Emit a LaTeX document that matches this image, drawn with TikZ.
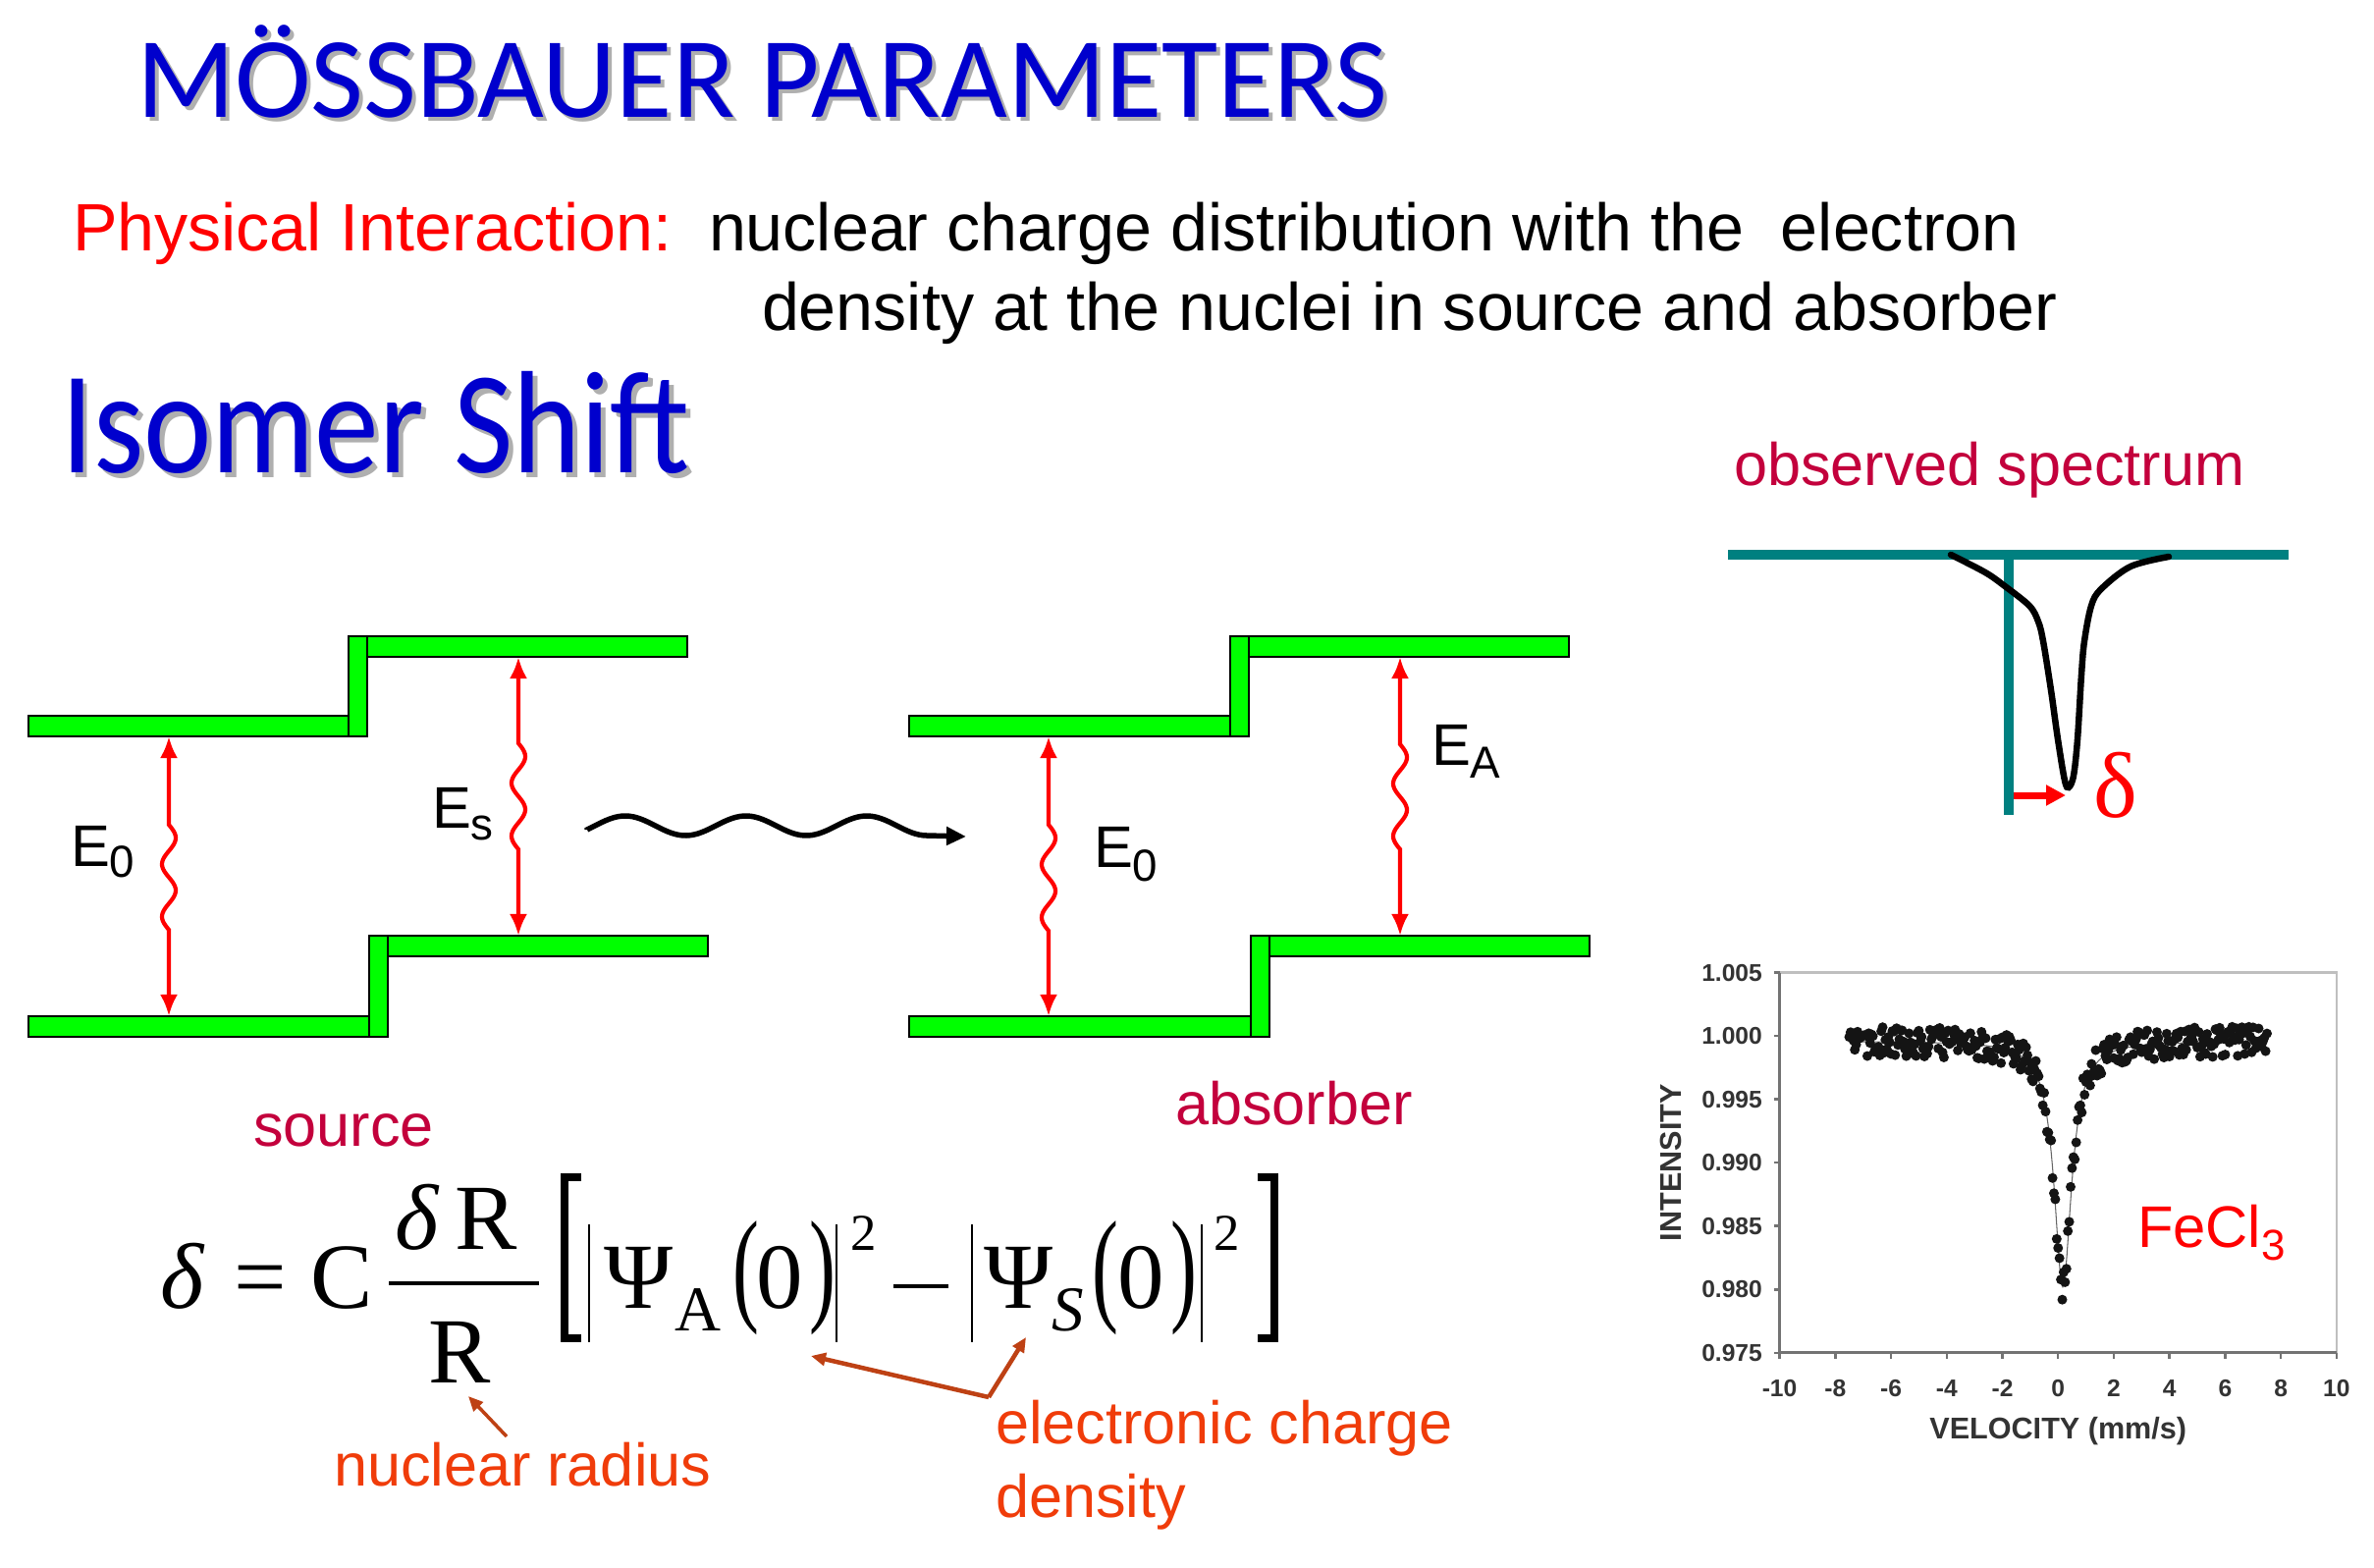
\documentclass[tikz,border=0pt]{standalone}
\usepackage{fontspec}
\setmainfont{Liberation Sans}
\newfontfamily\calib{Carlito}
\newfontfamily\tnr{Liberation Serif}
\usetikzlibrary{arrows.meta,calc}
\definecolor{tblue}{RGB}{0,0,205}
\definecolor{shad}{RGB}{175,175,175}
\definecolor{crim}{RGB}{195,0,60}
\definecolor{ored}{RGB}{240,60,10}
\definecolor{abrown}{RGB}{190,65,20}
\definecolor{lvlgreen}{RGB}{0,255,0}
\definecolor{tealc}{RGB}{0,128,128}
\newcommand\fs[1]{\fontsize{#1}{#1}\selectfont}
\begin{document}
\begin{tikzpicture}[x=0.01cm,y=-0.01cm,
  txt/.style={inner sep=0pt,outer sep=0pt,anchor=base west},
  bar/.style={draw=black,line width=0.022cm,fill=lvlgreen,inner sep=0pt,outer sep=0pt,anchor=north west},
  redarr/.style={draw=red,line width=0.042cm,{Latex[length=0.22cm,width=0.18cm]}-{Latex[length=0.22cm,width=0.18cm]}},
  elab/.style={txt,font=\fs{17}},
  fm/.style={txt,font=\tnr\fs{27}},
  fsub/.style={txt,font=\tnr\fs{18.5}},
  fsup/.style={txt,font=\tnr\fs{15}},
  bigpar/.style={txt,font=\tnr\fs{27}},
  vbar/.style={line width=0.025cm},
  lab/.style={txt,font=\fs{17.4}},
  pointer/.style={draw=abrown,line width=0.035cm,-{Triangle[length=0.15cm,width=0.13cm]}},
  ticklab/.style={inner sep=0pt,font=\bfseries\fs{7},text=black!80},
  axlab/.style={inner sep=0pt,font=\bfseries\fs{8.7},text=black!80}]
\fill[white] (0,0) rectangle (2418,1597);
\useasboundingbox (0,0) rectangle (2418,1597);

% ---------- headings ----------
\node[txt,text=shad,font=\calib\fs{33.3}] (titleS) at (143,124) {MÖSSBAUER PARAMETERS};
\node[txt,text=tblue,font=\calib\fs{33.3}] (title) at (139,120) {MÖSSBAUER PARAMETERS};
\node[txt,text=red,font=\fs{19.4}] (phys) at (74,255) {Physical Interaction:};
\node[txt,font=\fs{19.4}] (line1) at (722,255) {nuclear charge distribution with the\ \ electron};
\node[txt,font=\fs{19.4}] (line2) at (776,336) {density at the nuclei in source and absorber};
\node[txt,text=shad,font=\calib\fs{37.4}] (isoS) at (67,486) {\scalebox{1}[1.13]{Isomer Shift}};
\node[txt,text=tblue,font=\calib\fs{37.4}] (iso) at (62,481) {\scalebox{1}[1.13]{Isomer Shift}};

% ---------- level diagrams ----------
\node[bar,minimum width=3.26cm,minimum height=0.21cm] (sUL) at (29,729) {};
\node[bar,minimum width=0.19cm,minimum height=1.02cm] (sUV) at (355,648) {};
\node[bar,minimum width=3.26cm,minimum height=0.21cm] (sUR) at (374,648) {};
\node[bar,minimum width=3.47cm,minimum height=0.21cm] (sLL) at (29,1035) {};
\node[bar,minimum width=0.19cm,minimum height=1.03cm] (sLV) at (376,953) {};
\node[bar,minimum width=3.26cm,minimum height=0.21cm] (sLR) at (395,953) {};
\node[bar,minimum width=3.27cm,minimum height=0.21cm] (aUL) at (926,729) {};
\node[bar,minimum width=0.19cm,minimum height=1.02cm] (aUV) at (1253,648) {};
\node[bar,minimum width=3.26cm,minimum height=0.21cm] (aUR) at (1272,648) {};
\node[bar,minimum width=3.48cm,minimum height=0.21cm] (aLL) at (926,1035) {};
\node[bar,minimum width=0.19cm,minimum height=1.03cm] (aLV) at (1274,953) {};
\node[bar,minimum width=3.26cm,minimum height=0.21cm] (aLR) at (1293,953) {};

\draw[redarr] (172,0 |- sUL.south) -- (172,840)
  -- plot[domain=0:1,samples=50,variable=\t] ({172+7*sin(720*\t)},{840+107*\t})
  -- (172,0 |- sLL.north);
\draw[redarr] (528,0 |- sUR.south) -- (528,757)
  -- plot[domain=0:1,samples=50,variable=\t] ({528+7*sin(720*\t)},{757+108*\t})
  -- (528,0 |- sLR.north);
\draw[redarr] (1068,0 |- aUL.south) -- (1068,840)
  -- plot[domain=0:1,samples=50,variable=\t] ({1068+7*sin(720*\t)},{840+108*\t})
  -- (1068,0 |- aLL.north);
\draw[redarr] (1426,0 |- aUR.south) -- (1426,758)
  -- plot[domain=0:1,samples=50,variable=\t] ({1426+7*sin(720*\t)},{758+107*\t})
  -- (1426,0 |- aLR.north);

\node[elab] (E0s) at (72,882) {E\raisebox{-0.11cm}{\fs{13}0}};
\node[elab] (Es) at (440,843) {E\raisebox{-0.12cm}{\fs{13}s}};
\node[elab] (E0a) at (1114,883) {E\raisebox{-0.14cm}{\fs{13}0}};
\node[elab] (EA) at (1458,779) {E\raisebox{-0.13cm}{\fs{13}A}};

\coordinate (ph0) at (598,845);
\coordinate (ph1) at (984,852);
\draw[line width=0.055cm,-{Triangle[length=0.2cm,width=0.18cm]}] (ph0)
  -- plot[domain=0:1,samples=90,variable=\t] ({598+346*\t},{841-10*sin(-23.4+1012.7*\t)}) -- (ph1);

\node[lab,text=crim] (src) at (258,1167) {source};
\node[lab,text=crim] (abs) at (1197,1145) {absorber};

% ---------- observed spectrum ----------
\node[lab,text=crim] (obs) at (1766,494) {observed spectrum};
\draw[tealc,line width=0.1cm] (1760,565) -- (2331,565);
\draw[tealc,line width=0.1cm] (2046,565) -- (2046,830);
\draw[black,line width=0.065cm,line cap=round] plot[smooth,tension=0.55] coordinates {
 (1987,565) (2022,583) (2042,597) (2067,617) (2076,633) (2081,653) (2089,703)
 (2096,753) (2103,795) (2107,802) (2112,790) (2116,753) (2120,687) (2123,653)
 (2130,617) (2140,600) (2170,577) (2209,567)};
\draw[red,line width=0.07cm,-{Triangle[length=0.2cm,width=0.2cm]}] (2051,810) -- (2104,810);
\node[inner sep=0pt,text=red,font=\tnr\fs{27}] (dlt) at (2155,800) {δ};

% ---------- measured spectrum ----------
\begin{scope}[shift={(20.95cm,-13.77cm)},x=0.2835cm,y=0.129cm]
  \draw[black!25,line width=0.025cm] (-10,30) -- (10,30) -- (10,0);
  \draw[black!55,line width=0.03cm] (-10,30) -- (-10,0) -- (10,0);
  \foreach \v in {-10,-8,...,10}{
    \draw[black!55,line width=0.025cm] (\v,0) -- ++(0,-0.06cm);
    \node[ticklab] at (\v,-2.8) {\v};
  }
  \foreach \k/\lab in {0/0.975,5/0.980,10/0.985,15/0.990,20/0.995,25/1.000,30/1.005}{
    \draw[black!55,line width=0.025cm] (-10,\k) -- ++(-0.06cm,0);
    \node[ticklab,anchor=east] at ([xshift=-0.17cm]-10,\k) {\lab};
  }
  \node[axlab,rotate=90] (ylab) at (-13.9,15) {INTENSITY};
  \node[axlab] (xlab) at (0,-6.2) {VELOCITY (mm/s)};
  \draw[black!60,line width=0.3pt] plot[domain=-7.5:7.5,samples=400] (\x,{24.6-19.4/(1+((\x-0.17)/0.38)^2)});
  \pgfmathsetseed{4242}
  \foreach \i in {0,...,300}{
    \pgfmathsetmacro\xx{-7.5+0.05*\i}
    \pgfmathsetmacro\yy{24.6+1.2*rand-19.4/(1+((\xx-0.17)/0.38)^2)}
    \fill[black!92] (\xx,\yy) circle[radius=0.05cm];
  }
\end{scope}
\node[txt,text=red,font=\fs{17}] (fecl) at (2177,1270) {FeCl\raisebox{-0.13cm}{\fs{12.5}3}};

% ---------- formula ----------
\node[fm] (fd) at (163,1332) {\itshape δ};
\node[fm] (feq) at (238,1332) {=};
\node[fm] (fC) at (316,1332) {C};
\draw[line width=0.04cm] (396,1307) -- (549,1307);
\node[fm] (fnd) at (402,1272) {\itshape δ};
\node[fm] (fnR) at (463,1272) {R};
\node[fm] (fR) at (436,1408) {R};
\draw[line width=0.08cm] (592,1199) -- (575,1199) -- (575,1363) -- (592,1363);
\draw[line width=0.08cm] (1281,1199) -- (1298,1199) -- (1298,1363) -- (1281,1363);
\draw[vbar] (600,1247) -- (600,1367);
\node[fm] (fP1) at (615,1332) {Ψ};
\node[fsub] (fA) at (687,1355) {A};
\node[bigpar] (fo1) at (746,1332) {\scalebox{0.85}[1.35]{(}};
\node[fm] (fz1) at (770,1332) {0};
\node[bigpar] (fc1) at (824,1332) {\scalebox{0.85}[1.35]{)}};
\draw[vbar] (852,1247) -- (852,1367);
\node[fsup] (fs1) at (866,1273) {2};
\draw[line width=0.04cm] (910,1310) -- (966,1310);
\draw[vbar] (990,1247) -- (990,1367);
\node[fm] (fP2) at (1002,1332) {Ψ};
\node[fsub] (fS) at (1071,1355) {\itshape S};
\node[bigpar] (fo2) at (1112,1332) {\scalebox{0.85}[1.35]{(}};
\node[fm] (fz2) at (1138,1332) {0};
\node[bigpar] (fc2) at (1192,1332) {\scalebox{0.85}[1.35]{)}};
\draw[vbar] (1224,1247) -- (1224,1367);
\node[fsup] (fs2) at (1236,1273) {2};

% ---------- annotations ----------
\node[lab,text=ored] (nrad) at (340,1513) {nuclear radius};
\node[lab,text=ored] (ecd1) at (1014,1470) {electronic charge};
\node[lab,text=ored] (ecd2) at (1014,1545) {density};
\coordinate (nr0) at (516,1463);
\coordinate (nr1) at (477,1422);
\draw[pointer] (nr0) -- (nr1);
\coordinate (ej) at (1007,1423);
\coordinate (ea) at (826,1381);
\coordinate (eb) at (1045,1362);
\draw[pointer,line width=0.045cm] (ej) -- (ea);
\draw[pointer,line width=0.045cm] (ej) -- (eb);
\end{tikzpicture}
\end{document}
